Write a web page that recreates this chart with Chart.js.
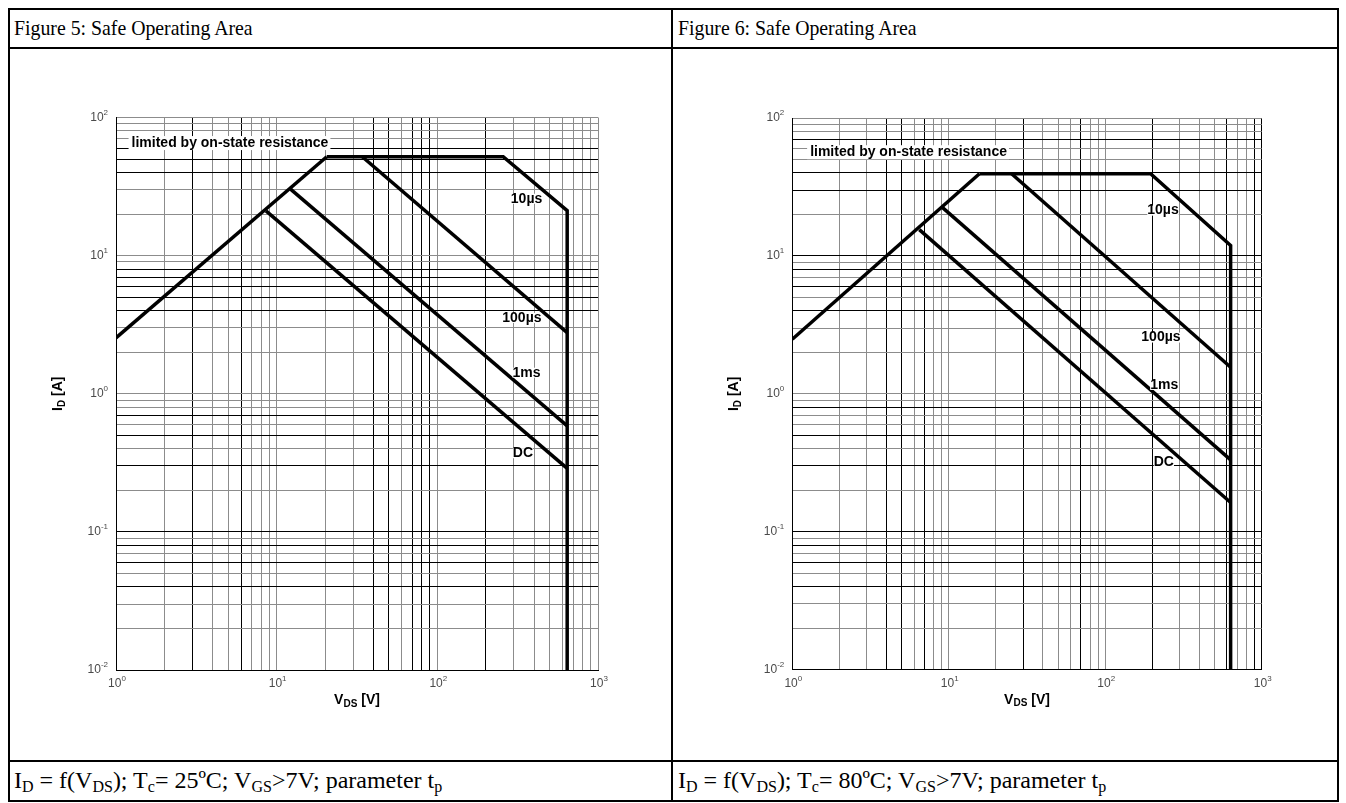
<!DOCTYPE html>
<html>
<head>
<meta charset="utf-8">
<script src="https://cdn.jsdelivr.net/npm/chart.js@4.4.0/dist/chart.umd.min.js"></script>
<style>
  body { margin: 0; background: #fff; width: 1346px; height: 803px; position: relative; overflow: hidden; }
  .rule { position: absolute; background: #000; }
  .cap { position: absolute; font-family: "Liberation Serif", "Times New Roman", serif; font-size: 22px; color: #000; white-space: nowrap; line-height: 24px; transform: scaleX(0.9); transform-origin: 0 0; }
  .foot { font-size: 24px; transform: none; }
  .cap sub { font-size: 16px; vertical-align: -4px; line-height: 0; }
  canvas { position: absolute; }
</style>
</head>
<body>
<div class="rule" style="left:8px;top:8px;width:1331px;height:2px"></div>
<div class="rule" style="left:8px;top:47px;width:1331px;height:2px"></div>
<div class="rule" style="left:8px;top:760px;width:1331px;height:2px"></div>
<div class="rule" style="left:8px;top:800px;width:1331px;height:2px"></div>
<div class="rule" style="left:8px;top:8px;width:2px;height:794px"></div>
<div class="rule" style="left:671px;top:8px;width:2px;height:794px"></div>
<div class="rule" style="left:1337px;top:8px;width:2px;height:794px"></div>

<div class="cap" style="left:14px;top:16px">Figure 5: Safe Operating Area</div>
<div class="cap" style="left:678px;top:16px">Figure 6: Safe Operating Area</div>
<div class="cap foot" style="left:14px;top:768px">I<sub>D</sub> = f(V<sub>DS</sub>); T<sub>c</sub>= 25ºC; V<sub>GS</sub>&gt;7V; parameter t<sub>p</sub></div>
<div class="cap foot" style="left:678px;top:768px">I<sub>D</sub> = f(V<sub>DS</sub>); T<sub>c</sub>= 80ºC; V<sub>GS</sub>&gt;7V; parameter t<sub>p</sub></div>

<canvas id="soa25" width="661" height="711" style="left:10px;top:49px"></canvas>
<canvas id="soa80" width="663" height="711" style="left:674px;top:49px"></canvas>

<script>
// grid positions and decade labels
const xTicks = [1, 2, 3, 4, 5, 6, 7, 8, 9, 10, 20, 30, 40, 50, 60, 70, 80, 90,
    100, 200, 300, 400, 500, 600, 700, 800, 900, 1000];
const yTicks = [0.01, 0.02, 0.03, 0.04, 0.05, 0.06, 0.07, 0.08, 0.09, 0.1,
    0.2, 0.3, 0.4, 0.5, 0.6, 0.7, 0.8, 0.9, 1, 2, 3, 4, 5, 6, 7, 8, 9, 10,
    20, 30, 40, 50, 60, 70, 80, 90, 100];
const xDecades = [1, 10, 100, 1000];
const xExp = ["0", "1", "2", "3"];
const yDecades = [0.01, 0.1, 1, 10, 100];
const yExp = ["-2", "-1", "0", "1", "2"];

// Tc = 25 C  (V in volts, I in amps)
const rdsV25 = [1, 20.5];
const rdsI25 = [2.54, 52];
const tp10usV25 = [20.5, 257, 643, 643];
const tp10usI25 = [52, 52, 21.2, 0.01];
const tp100usV25 = [34.1, 643];
const tp100usI25 = [52, 2.77];
const tp1msV25 = [12.2, 643];
const tp1msI25 = [30.3, 0.585];
const dcV25 = [8.58, 643];
const dcI25 = [21.1, 0.288];

// Tc = 80 C
const rdsV80 = [1, 15.7];
const rdsI80 = [2.49, 39.4];
const tp10usV80 = [15.7, 195, 633, 633];
const tp10usI80 = [39.4, 39.4, 11.9, 0.01];
const tp100usV80 = [25.2, 633];
const tp100usI80 = [39.4, 1.56];
const tp1msV80 = [9.09, 633];
const tp1msI80 = [22.5, 0.332];
const dcV80 = [6.48, 633];
const dcI80 = [15.5, 0.163];

// curve names and where they sit
const curveNames = ["10µs", "100µs", "1ms", "DC"];
const nameV25 = [359, 336, 359, 341];
const nameI25 = [25.8, 3.54, 1.42, 0.371];
const nameV80 = [234, 227, 238, 237];
const nameI80 = [21.3, 2.56, 1.16, 0.319];
const rdsNote = "limited by on-state resistance";
const noteV25 = 1.25, noteI25 = 65.3;
const noteV80 = 1.30, noteI80 = 56.5;

// which grid lines came out dark in the scan
const darkX25 = [1, 3, 6, 40, 50, 70, 80, 90, 200];
const darkY25 = [0.01, 0.04, 0.06, 0.08, 0.1, 0.3, 0.5, 0.7, 4, 5, 6, 7, 8, 40, 50, 60];
const darkX80 = [1, 4, 5, 7, 30, 70, 200, 600, 900, 1000];
const darkY80 = [0.01, 0.04, 0.06, 0.08, 0.1, 0.3, 0.5, 0.8, 4, 6, 8, 10, 30, 40, 70];

function pts(xs, ys) {
    return xs.map((x, i) => ({ x: x, y: ys[i] }));
}

function line(xs, ys) {
    return {
        data: pts(xs, ys),
        borderColor: "#000",
        borderWidth: 3.5,
        pointRadius: 0,
        fill: false,
        tension: 0,
        borderJoinStyle: "miter",
    };
}

// draw a run of text pieces (base / sub / sup) starting at x
function richWidth(ctx, parts) {
    let w = 0;
    parts.forEach((p) => {
        ctx.font = p.font;
        w += ctx.measureText(p.t).width;
    });
    return w;
}
function drawRich(ctx, parts, x, y) {
    parts.forEach((p) => {
        ctx.font = p.font;
        ctx.fillText(p.t, x, y + (p.dy || 0));
        x += ctx.measureText(p.t).width;
    });
}

const soaText = {
    id: "soaText",
    afterDatasetsDraw(chart, args, o) {
        const ctx = chart.ctx;
        const xs = chart.scales.x;
        const ys = chart.scales.y;
        const area = chart.chartArea;
        ctx.save();
        ctx.textBaseline = "middle";
        ctx.textAlign = "left";

        // decade labels
        ctx.fillStyle = "#4a4a4a";
        xDecades.forEach((v, i) => {
            const parts = [
                { t: "10", font: "12px 'Liberation Sans', Arial" },
                { t: xExp[i], font: "8px 'Liberation Sans', Arial", dy: -5 },
            ];
            const w = richWidth(ctx, parts);
            drawRich(ctx, parts, xs.getPixelForValue(v) - w / 2 + 1, area.bottom + 14);
        });
        yDecades.forEach((v, i) => {
            const parts = [
                { t: "10", font: "12px 'Liberation Sans', Arial" },
                { t: yExp[i], font: "8px 'Liberation Sans', Arial", dy: -5 },
            ];
            const w = richWidth(ctx, parts);
            drawRich(ctx, parts, area.left - 8 - w, ys.getPixelForValue(v));
        });

        // axis titles
        ctx.fillStyle = "#000";
        const xt = [
            { t: "V", font: "bold 14px 'Liberation Sans', Arial" },
            { t: "DS", font: "bold 10px 'Liberation Sans', Arial", dy: 4 },
            { t: " [V]", font: "bold 14px 'Liberation Sans', Arial" },
        ];
        const xw = richWidth(ctx, xt);
        drawRich(ctx, xt, (area.left + area.right) / 2 - xw / 2, area.bottom + 30);

        const yt = [
            { t: "I", font: "bold 14px 'Liberation Sans', Arial" },
            { t: "D", font: "bold 10px 'Liberation Sans', Arial", dy: 4 },
            { t: " [A]", font: "bold 14px 'Liberation Sans', Arial" },
        ];
        const yw = richWidth(ctx, yt);
        ctx.save();
        ctx.translate(area.left - 58, (area.top + area.bottom) / 2);
        ctx.rotate(-Math.PI / 2);
        drawRich(ctx, yt, -yw / 2, 0);
        ctx.restore();

        // the R_DS(on) note
        ctx.font = "bold 14px 'Liberation Sans', Arial";
        const nx = xs.getPixelForValue(o.noteV);
        const ny = ys.getPixelForValue(o.noteI);
        const nw = ctx.measureText(rdsNote).width;
        ctx.fillStyle = "#fff";
        ctx.fillRect(nx - 3, ny - 7, nw + 5, 14);
        ctx.fillStyle = "#000";
        ctx.fillText(rdsNote, nx, ny);

        // curve names
        ctx.font = "bold 14px 'Liberation Sans', Arial";
        curveNames.forEach((name, i) => {
            const cx = xs.getPixelForValue(o.nameV[i]);
            const cy = ys.getPixelForValue(o.nameI[i]);
            const w = ctx.measureText(name).width;
            ctx.fillStyle = "#fff";
            ctx.fillRect(cx - w / 2, cy - 5, w, 10);
            ctx.fillStyle = "#000";
            ctx.fillText(name, cx - w / 2, cy);
        });
        ctx.restore();
    },
};

function makeChart(id, curves, dark, geo, notes) {
    const canvas = document.getElementById(id);
    return new Chart(canvas, {
        type: "line",
        data: { datasets: curves.map((c) => line(c[0], c[1])) },
        options: {
            responsive: false,
            animation: false,
            events: [],
            layout: { padding: { left: 0, top: geo.top, right: geo.right, bottom: 0 } },
            plugins: {
                legend: { display: false },
                tooltip: { enabled: false },
                soaText: notes,
            },
            scales: {
                x: {
                    type: "logarithmic",
                    min: 1,
                    max: 1000,
                    afterBuildTicks: (s) => { s.ticks = xTicks.map((v) => ({ value: v })); },
                    afterFit: (s) => { s.height = geo.xh; },
                    ticks: { display: false },
                    grid: {
                        drawTicks: false,
                        lineWidth: 1,
                        color: (c) => (dark[0].includes(c.tick.value) ? "#000" : "#8c8c8c"),
                    },
                    border: { color: "#000", width: 1 },
                },
                y: {
                    type: "logarithmic",
                    min: 0.01,
                    max: 100,
                    afterBuildTicks: (s) => { s.ticks = yTicks.map((v) => ({ value: v })); },
                    afterFit: (s) => { s.width = geo.yw; },
                    ticks: { display: false },
                    grid: {
                        drawTicks: false,
                        lineWidth: 1,
                        color: (c) => (dark[1].includes(c.tick.value) ? "#000" : "#8c8c8c"),
                    },
                    border: { color: "#000", width: 1 },
                },
            },
        },
        plugins: [soaText],
    });
}

makeChart(
    "soa25",
    [
        [rdsV25, rdsI25],
        [tp10usV25, tp10usI25],
        [tp100usV25, tp100usI25],
        [tp1msV25, tp1msI25],
        [dcV25, dcI25],
    ],
    [darkX25, darkY25],
    { top: 68.5, right: 73, xh: 90, yw: 106 },
    { noteV: noteV25, noteI: noteI25, nameV: nameV25, nameI: nameI25 }
);

makeChart(
    "soa80",
    [
        [rdsV80, rdsI80],
        [tp10usV80, tp10usI80],
        [tp100usV80, tp100usI80],
        [tp1msV80, tp1msI80],
        [dcV80, dcI80],
    ],
    [darkX80, darkY80],
    { top: 69, right: 75.3, xh: 90.3, yw: 118.3 },
    { noteV: noteV80, noteI: noteI80, nameV: nameV80, nameI: nameI80 }
);
</script>
</body>
</html>
